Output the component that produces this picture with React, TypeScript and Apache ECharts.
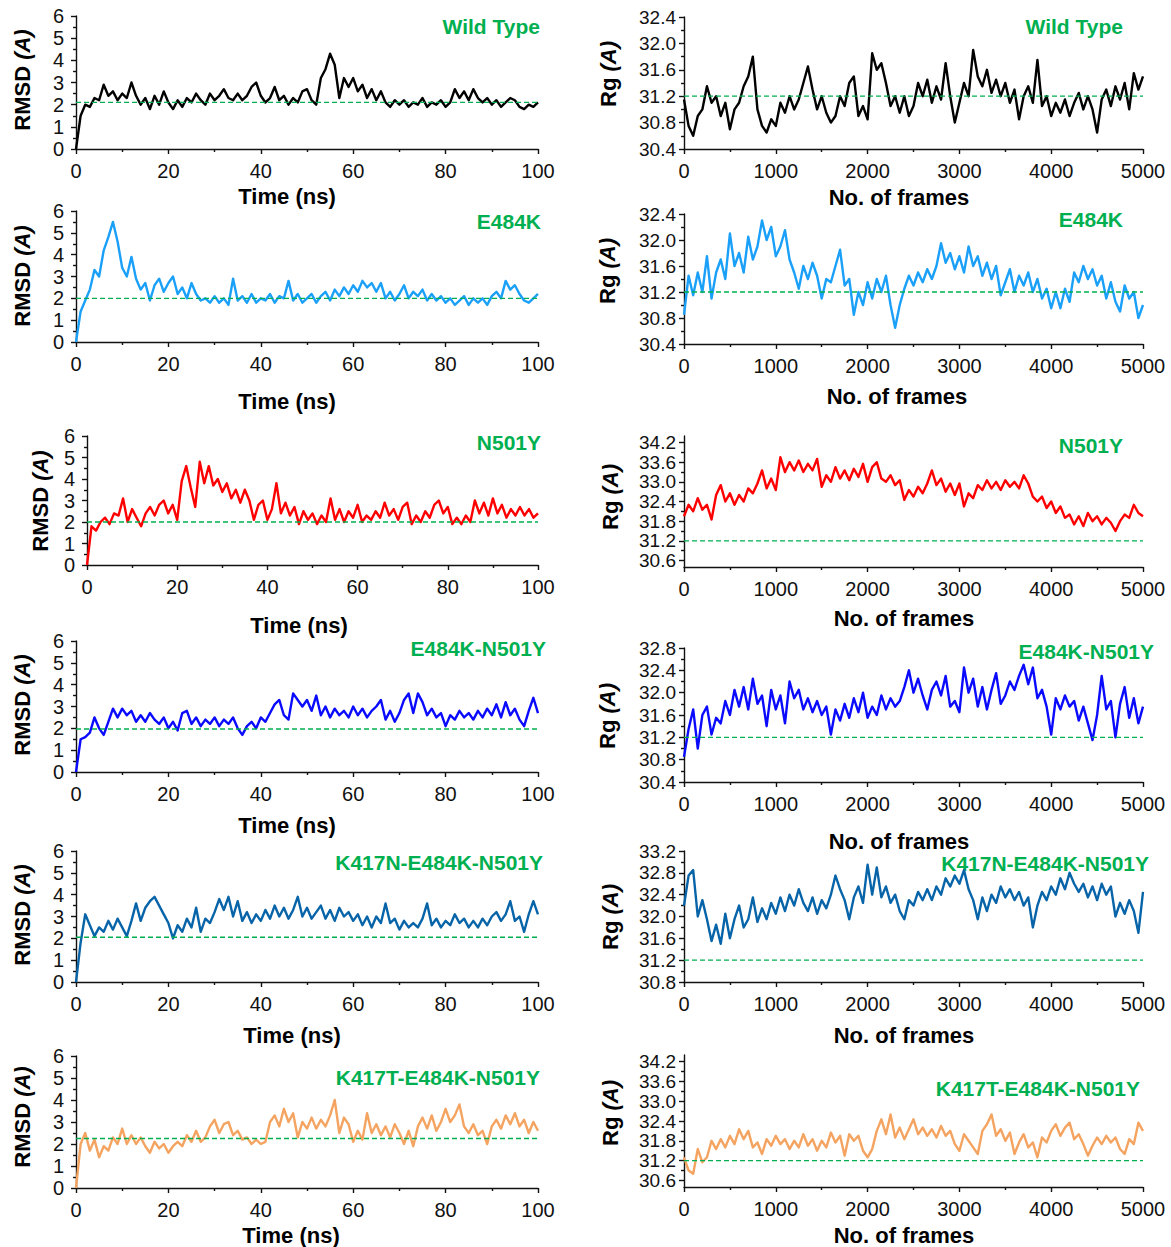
import React, { useEffect, useRef } from "react";
import * as echarts from "echarts";

// ---------------- data ----------------
// RMSD series: one value per ns, 0..100 ns
const WT_RMSD = [
  0, 1.5, 2.0, 1.9, 2.3, 2.2, 2.9, 2.4, 2.6, 2.2,
  2.5, 2.3, 3.0, 2.4, 2.0, 2.3, 1.8, 2.4, 2.0, 2.6,
  2.1, 1.8, 2.2, 1.9, 2.3, 2.1, 2.5, 2.2, 2.0, 2.5,
  2.2, 2.4, 2.7, 2.3, 2.2, 2.5, 2.2, 2.4, 2.8, 3.0,
  2.4, 2.1, 2.3, 2.8, 2.2, 2.4, 2.0, 2.3, 2.1, 2.6,
  2.7, 2.2, 2.0, 3.2, 3.6, 4.3, 3.8, 2.3, 3.2, 2.8,
  3.2, 2.6, 2.9, 2.3, 2.7, 2.2, 2.6, 2.1, 1.9, 2.2,
  2.0, 2.2, 1.9, 2.1, 2.0, 2.3, 1.9, 2.1, 2.0, 2.2,
  1.9, 2.1, 2.7, 2.3, 2.6, 2.2, 2.7, 2.3, 2.1, 2.3,
  2.0, 2.2, 1.9, 2.1, 2.3, 2.2, 1.9, 1.8, 2.0, 1.9,
  2.1,
];
const E484K_RMSD = [
  0, 1.4, 1.9, 2.4, 3.3, 3.0, 4.2, 4.8, 5.5, 4.6,
  3.4, 3.0, 3.9, 2.9, 2.4, 2.7, 1.9, 2.6, 2.9, 2.3,
  2.7, 3.0, 2.2, 2.5, 2.0, 2.7, 2.2, 1.9, 2.0, 1.8,
  2.1, 1.8, 2.0, 1.7, 2.9, 1.9, 2.1, 1.8, 2.2, 1.8,
  2.0, 1.9, 2.2, 1.8, 2.1, 2.0, 2.8, 1.9, 2.2, 1.8,
  2.0, 2.2, 1.8, 2.1, 2.3, 1.9, 2.4, 2.1, 2.5, 2.2,
  2.6, 2.3, 2.8, 2.5, 2.7, 2.3, 2.7, 2.0, 2.3, 1.9,
  2.2, 2.6, 2.0, 2.3, 2.1, 2.4, 1.9, 2.2, 1.9, 2.1,
  1.8, 2.0, 1.7, 1.9, 2.1, 1.7, 2.0, 1.8, 2.0, 1.7,
  2.1, 2.3, 2.0, 2.8, 2.4, 2.6, 2.2, 1.9, 1.8, 2.0,
  2.2,
];
const N501Y_RMSD = [
  0, 1.8, 1.6, 2.0, 2.2, 1.9, 2.4, 2.3, 3.1, 2.0,
  2.6, 2.2, 1.8, 2.4, 2.7, 2.3, 2.8, 3.0, 2.4, 2.8,
  2.1, 3.9, 4.6, 3.6, 2.7, 4.8, 3.8, 4.6, 3.7, 4.0,
  3.4, 3.8, 3.1, 3.5, 2.9, 3.5, 3.0, 2.1, 2.8, 3.0,
  2.1, 2.6, 3.8, 2.4, 2.9, 2.3, 2.7, 1.9, 2.5, 2.1,
  2.4, 1.9, 2.3, 2.0, 3.1, 2.1, 2.6, 2.0, 2.5, 2.2,
  2.8, 2.0, 2.3, 2.1, 2.5, 2.2, 2.9, 2.3, 2.6, 2.1,
  2.7, 2.9, 1.9, 2.3, 2.0, 2.5, 2.2, 2.8, 3.0, 2.4,
  2.7, 1.9, 2.2, 1.9, 2.3, 2.0, 3.0, 2.4, 2.9, 2.3,
  3.1, 2.4, 2.8, 2.2, 2.6, 2.3, 2.7, 2.3, 2.6, 2.2,
  2.4,
];
const EN_RMSD = [
  0, 1.5, 1.6, 1.8, 2.5, 2.0, 1.7, 2.3, 2.9, 2.5,
  2.9, 2.6, 2.8, 2.3, 2.6, 2.3, 2.7, 2.4, 2.2, 2.5,
  2.0, 2.3, 1.9, 2.7, 2.8, 2.2, 2.5, 2.1, 2.4, 2.2,
  2.5, 2.1, 2.4, 2.2, 2.5, 2.0, 1.7, 2.1, 2.3, 2.0,
  2.5, 2.3, 2.7, 3.1, 3.3, 2.6, 2.4, 3.6, 3.3, 3.0,
  3.3, 2.8, 3.5, 2.6, 3.0, 2.5, 2.9, 2.6, 2.8, 2.5,
  3.0, 2.6, 2.9, 2.5, 2.8, 3.0, 3.3, 2.4, 2.8, 2.3,
  2.7, 3.3, 3.6, 2.7, 3.6, 3.2, 2.6, 2.9, 2.5, 2.7,
  2.1, 2.6, 2.4, 2.8, 2.5, 2.7, 2.4, 2.8, 2.5, 2.9,
  2.6, 3.1, 2.5, 3.2, 2.6, 2.9, 2.4, 2.1, 2.8, 3.4,
  2.7,
];
const K417N_RMSD = [
  0, 1.8, 3.1, 2.6, 2.1, 2.5, 2.3, 2.8, 2.4, 2.9,
  2.5, 2.1, 2.8, 3.6, 2.8, 3.4, 3.7, 3.9, 3.5, 3.1,
  2.7, 2.0, 2.6, 2.3, 2.9, 2.5, 3.4, 2.3, 2.9, 2.7,
  3.2, 3.8, 3.3, 3.9, 3.0, 3.7, 2.8, 3.2, 2.7, 3.1,
  2.8, 3.3, 2.9, 3.5, 3.0, 3.4, 2.9, 3.3, 3.9, 3.0,
  3.4, 2.9, 3.2, 3.5, 2.9, 3.3, 2.8, 3.4, 3.0, 3.2,
  2.8, 3.1, 2.6, 3.0, 2.5, 3.0, 2.7, 3.6, 2.7, 2.9,
  2.4, 2.8, 2.5, 2.7, 2.5, 2.9, 3.6, 2.6, 2.9, 2.5,
  2.8, 2.6, 3.1, 2.7, 2.9, 2.5, 2.8, 2.5, 2.9, 2.6,
  3.0, 3.2, 2.8, 3.1, 3.7, 2.8, 3.0, 2.3, 3.1, 3.7,
  3.1,
];
const K417T_RMSD = [
  0, 2.0, 2.5, 1.7, 2.2, 1.4, 1.9, 1.7, 2.3, 2.0,
  2.7, 2.0, 2.4, 2.0, 2.3, 1.9, 1.6, 2.1, 1.8, 2.0,
  1.6, 1.9, 2.1, 1.9, 2.4, 2.1, 2.6, 2.1, 2.3, 2.8,
  3.1, 2.5, 2.9, 3.0, 2.4, 2.6, 2.2, 2.3, 2.0, 2.2,
  2.0, 2.1, 3.0, 3.3, 2.8, 3.6, 3.0, 3.4, 2.3, 3.0,
  2.7, 3.2, 2.7, 3.1, 2.8, 3.3, 4.0, 2.5, 3.2, 2.9,
  2.1, 2.6, 2.2, 3.4, 2.5, 2.9, 2.4, 2.8, 2.3, 2.9,
  2.5, 2.0, 2.6, 1.9, 2.8, 3.2, 2.7, 3.3, 2.6, 3.0,
  3.6, 3.0, 3.3, 3.8, 2.8, 2.5, 2.9, 2.4, 2.6, 2.0,
  2.8, 3.1, 2.7, 3.3, 2.9, 3.4, 2.8, 3.1, 2.5, 3.0,
  2.6,
];

// Rg series: one value per 50 frames, 0..5000
const WT_RG = [
  31.15, 30.75, 30.6, 30.9, 31.0, 31.35, 31.1, 31.2, 30.9, 31.1,
  30.7, 31.0, 31.1, 31.35, 31.5, 31.8, 31.0, 30.75, 30.65, 30.85,
  30.75, 31.1, 30.95, 31.2, 31.0, 31.15, 31.4, 31.65, 31.3, 31.0,
  31.2, 30.95, 30.8, 30.9, 31.2, 31.05, 31.4, 31.5, 30.9, 31.05,
  30.85, 31.85, 31.6, 31.7, 31.4, 31.05, 31.2, 30.95, 31.2, 30.9,
  31.05, 31.4, 31.2, 31.45, 31.1, 31.35, 31.15, 31.7, 31.2, 30.8,
  31.1, 31.4, 31.2, 31.9, 31.5, 31.35, 31.6, 31.25, 31.45, 31.2,
  31.4, 31.1, 31.3, 30.85, 31.2, 31.35, 31.1, 31.75, 31.05, 31.2,
  30.9, 31.1, 30.95, 31.15, 30.9, 31.1, 31.25, 31.0, 31.2, 31.0,
  30.65, 31.15, 31.3, 31.05, 31.35, 31.15, 31.4, 31.0, 31.55, 31.3,
  31.5,
];
const E484K_RG = [
  30.85, 31.45, 31.15, 31.5, 31.2, 31.75, 31.1, 31.5, 31.7, 31.4,
  32.1, 31.6, 31.8, 31.5, 32.05, 31.7, 31.9, 32.3, 32.0, 32.2,
  31.75, 31.9, 32.15, 31.7, 31.5, 31.25, 31.6, 31.4, 31.65, 31.45,
  31.1, 31.4, 31.35, 31.6, 31.85, 31.3, 31.4, 30.85, 31.2, 31.0,
  31.35, 31.1, 31.4, 31.2, 31.45, 31.0, 30.65, 31.0, 31.25, 31.45,
  31.3, 31.5, 31.35, 31.55, 31.4, 31.6, 31.95, 31.65, 31.8, 31.55,
  31.75, 31.5, 31.9, 31.6, 31.75, 31.45, 31.65, 31.4, 31.6, 31.15,
  31.35, 31.55, 31.2, 31.45, 31.3, 31.5, 31.2, 31.4, 31.1, 31.25,
  30.95, 31.2, 30.95, 31.25, 31.05, 31.5, 31.35, 31.6, 31.4, 31.55,
  31.3, 31.45, 31.1, 31.35, 31.05, 30.9, 31.3, 31.1, 31.2, 30.8,
  31.0,
];
const N501Y_RG = [
  31.95, 32.3, 32.1, 32.5, 32.15, 32.3, 31.85, 32.6, 32.9, 32.4,
  32.65, 32.3, 32.6, 32.4, 32.8, 32.65, 32.95, 33.35, 32.8, 33.1,
  32.75, 33.75, 33.3, 33.6, 33.35, 33.65, 33.3, 33.55, 33.35, 33.7,
  32.85, 33.2, 33.0, 33.45, 33.1, 33.35, 33.05, 33.4, 33.15, 33.55,
  33.0, 33.45, 33.6, 33.1, 33.0, 33.2, 32.9, 33.05, 32.45, 32.75,
  32.55, 32.85, 32.65, 32.95, 33.35, 32.9, 33.1, 32.7, 32.95, 32.6,
  32.95, 32.25, 32.65, 32.5, 32.9, 32.75, 33.05, 32.8, 33.0, 32.75,
  33.05, 32.85, 33.0, 32.8, 33.2, 32.95, 32.55, 32.4, 32.55, 32.2,
  32.4, 32.05, 32.25, 31.9, 32.0, 31.7, 31.95, 31.65, 32.05, 31.8,
  31.95, 31.7, 31.9, 31.75, 31.5, 31.8, 32.0, 31.9, 32.3, 32.05,
  31.95,
];
const EN_RG = [
  30.85, 31.35, 31.7, 31.0, 31.6, 31.75, 31.25, 31.55, 31.45, 31.85,
  31.6, 32.05, 31.75, 32.1, 31.7, 32.25, 31.8, 31.95, 31.4, 32.05,
  31.7, 31.95, 31.45, 32.2, 31.9, 32.05, 31.7, 31.9, 31.65, 31.85,
  31.6, 31.75, 31.25, 31.7, 31.5, 31.8, 31.55, 31.9, 31.65, 32.0,
  31.55, 31.75, 31.6, 31.95, 31.7, 31.9, 31.75, 31.85, 32.1, 32.4,
  32.0, 32.25, 31.95, 31.7, 32.05, 32.2, 31.95, 32.3, 31.75, 31.85,
  31.65, 32.45, 32.0, 32.25, 31.75, 32.1, 31.7, 32.05, 32.35, 31.8,
  31.95, 32.2, 32.05, 32.3, 32.5, 32.15, 32.45, 31.9, 32.05, 31.75,
  31.25, 31.9, 31.7, 31.95, 31.75, 31.85, 31.5, 31.75, 31.45, 31.15,
  31.6, 32.3, 31.7, 31.85, 31.2, 31.8, 32.1, 31.55, 31.9, 31.45,
  31.75,
];
const K417N_RG = [
  32.2, 32.75, 32.85, 32.0, 32.3, 31.95, 31.55, 31.85, 31.5, 32.05,
  31.6, 31.95, 32.2, 31.8, 31.95, 32.35, 31.9, 32.15, 31.95, 32.25,
  32.05, 32.35, 32.1, 32.4, 32.2, 32.5, 32.25, 32.1, 32.35, 32.05,
  32.3, 32.15, 32.4, 32.75, 32.5, 32.3, 31.95, 32.35, 32.55, 32.25,
  32.95, 32.4, 32.9, 32.35, 32.55, 32.25, 32.4, 32.1, 31.95, 32.3,
  32.2, 32.45, 32.3, 32.5, 32.3, 32.55, 32.4, 32.7, 32.55, 32.75,
  32.6, 32.85, 32.5, 32.3, 31.95, 32.35, 32.1, 32.4, 32.25, 32.55,
  32.35, 32.5, 32.3, 32.45, 32.2, 32.35, 31.8, 32.2, 32.45, 32.3,
  32.55, 32.4, 32.7, 32.5, 32.8, 32.6, 32.45, 32.6, 32.35, 32.55,
  32.3, 32.6, 32.4, 32.55, 32.0, 32.25, 32.05, 32.3, 32.1, 31.7,
  32.45,
];
const K417T_RG = [
  31.3, 30.9, 30.8, 31.55, 31.15, 31.3, 31.8, 31.55, 31.85, 31.6,
  31.95, 31.7, 32.15, 31.85, 32.1, 31.6, 31.75, 31.4, 31.85, 31.65,
  31.95, 31.7, 31.85, 31.55, 31.8, 31.6, 32.0, 31.65, 31.85, 31.5,
  31.8, 31.6, 32.05, 31.75, 31.95, 31.35, 32.0, 31.8, 31.95, 31.5,
  31.3, 31.55, 32.1, 32.45, 32.0, 32.6, 31.9, 32.2, 31.85, 32.15,
  32.45, 32.0, 32.2, 31.95, 32.15, 31.9, 32.25, 31.95, 32.1, 31.7,
  31.5, 32.0, 31.8, 31.6, 31.4, 32.1, 32.3, 32.6, 31.95, 32.15,
  31.8, 32.05, 31.4, 31.75, 32.0, 31.6, 31.75, 31.3, 31.9, 31.75,
  32.1, 32.3, 31.95, 32.2, 32.35, 31.85, 32.0, 31.7, 31.35, 31.65,
  31.9, 31.7, 31.95, 31.75, 31.9, 31.55, 31.4, 31.85, 31.7, 32.35,
  32.1,
];

const TIME_STEP_NS = 1;
const FRAME_STEP = 50;

const VARIANTS = ["Wild Type", "E484K", "N501Y", "E484K-N501Y", "K417N-E484K-N501Y", "K417T-E484K-N501Y"];
const RMSD_SERIES = [WT_RMSD, E484K_RMSD, N501Y_RMSD, EN_RMSD, K417N_RMSD, K417T_RMSD];
const RG_SERIES = [WT_RG, E484K_RG, N501Y_RG, EN_RG, K417N_RG, K417T_RG];
const RMSD_REF = [2.1, 2.0, 2.0, 1.97, 2.05, 2.25];
const RG_REF = [31.2, 31.2, 31.2, 31.2, 31.2, 31.2];

// tick labels
const TIME_TICKS = [0, 20, 40, 60, 80, 100];
const TIME_MINOR = [10, 30, 50, 70, 90];
const FRAME_TICKS = [0, 1000, 2000, 3000, 4000, 5000];
const FRAME_MINOR = [500, 1500, 2500, 3500, 4500];
const RMSD_TICKS = [0, 1, 2, 3, 4, 5, 6];
const RMSD_MINOR = [0.5, 1.5, 2.5, 3.5, 4.5, 5.5];
const RG_TICKS_A = [30.4, 30.8, 31.2, 31.6, 32.0, 32.4];
const RG_MINOR_A = [30.6, 31.0, 31.4, 31.8, 32.2];
const RG_TICKS_B = [30.6, 31.2, 31.8, 32.4, 33.0, 33.6, 34.2];
const RG_MINOR_B = [30.9, 31.5, 32.1, 32.7, 33.3, 33.9];
const RG_TICKS_C = [30.4, 30.8, 31.2, 31.6, 32.0, 32.4, 32.8];
const RG_MINOR_C = [30.6, 31.0, 31.4, 31.8, 32.2, 32.6];
const RG_TICKS_D = [30.8, 31.2, 31.6, 32.0, 32.4, 32.8, 33.2];
const RG_MINOR_D = [31.0, 31.4, 31.8, 32.2, 32.6, 33.0];
const RG_RANGES = [[30.4, 32.4], [30.4, 32.4], [30.4, 34.4], [30.4, 32.8], [30.8, 33.2], [30.4, 34.4]];
const RG_TICKS = [RG_TICKS_A, RG_TICKS_A, RG_TICKS_B, RG_TICKS_C, RG_TICKS_D, RG_TICKS_B];
const RG_MINORS = [RG_MINOR_A, RG_MINOR_A, RG_MINOR_B, RG_MINOR_C, RG_MINOR_D, RG_MINOR_B];

const COLORS = ["#000000", "#1aa0f8", "#ff0000", "#0a0aff", "#0764a8", "#f4a460"];
const GREEN = "#00b050";

// ---------------- layout ----------------
const LEFT_GRIDS = [
  { x0: 76, x1: 538, top: 16, bottom: 149 },
  { x0: 76, x1: 538, top: 211, bottom: 342 },
  { x0: 87, x1: 538, top: 436, bottom: 565 },
  { x0: 76, x1: 538, top: 641, bottom: 772 },
  { x0: 76, x1: 538, top: 851, bottom: 982 },
  { x0: 76, x1: 538, top: 1056, bottom: 1188 },
];
const RIGHT_GRIDS = [
  { x0: 684, x1: 1143, top: 17, bottom: 149 },
  { x0: 684, x1: 1143, top: 214, bottom: 344 },
  { x0: 684, x1: 1143, top: 436, bottom: 567 },
  { x0: 684, x1: 1143, top: 648, bottom: 782 },
  { x0: 684, x1: 1143, top: 851, bottom: 982 },
  { x0: 684, x1: 1143, top: 1055, bottom: 1187 },
];
const X_TITLE_LEFT = [[287, 196], [287, 401], [299, 625], [287, 825], [292, 1035], [291, 1235]];
const X_TITLE_RIGHT = [[899, 197], [897, 396], [904, 618], [899, 841], [904, 1035], [904, 1235]];
const Y_TITLE_LEFT = [[22, 80], [22, 276], [40, 501], [22, 705], [22, 915], [22, 1117]];
const Y_TITLE_RIGHT = [[608, 74], [607, 271], [610, 497], [607, 716], [610, 917], [610, 1113]];
const LABEL_LEFT = [[540, 26], [541, 221], [541, 442], [546, 648], [543, 862], [540, 1077]];
const LABEL_RIGHT = [[1123, 26], [1123, 219], [1123, 445], [1154, 651], [1149, 863], [1140, 1088]];

const FONT = "'Liberation Sans', Arial, Helvetica, sans-serif";
const AXIS_COLOR = "#111";

function buildOption() {
  const grid: any[] = [];
  const xAxis: any[] = [];
  const yAxis: any[] = [];
  const series: any[] = [];
  const elements: any[] = [];

  const lineStyle = { color: AXIS_COLOR, width: 1.4 };

  const addPanel = (
    g: any,
    xMin: number, xMax: number, xTicks: number[], xMinor: number[],
    yMin: number, yMax: number, yTicks: number[], yMinor: number[],
    yFmt: (v: number) => string, yMargin: number, yFont: number,
    values: number[], step: number, color: string, ref: number
  ) => {
    const gi = grid.length;
    grid.push({ left: g.x0, top: g.top, width: g.x1 - g.x0, height: g.bottom - g.top, containLabel: false });
    const ai = xAxis.length;
    xAxis.push({
      type: "value", gridIndex: gi, position: "bottom", min: xMin, max: xMax,
      axisLine: { show: true, onZero: false, lineStyle },
      splitLine: { show: false },
      axisTick: { show: true, inside: false, length: 5, lineStyle, customValues: xTicks },
      axisLabel: {
        customValues: xTicks, fontSize: 20, color: AXIS_COLOR, fontFamily: FONT, margin: 12,
        hideOverlap: false, showMinLabel: true, showMaxLabel: true,
        formatter: (v: number) => String(v),
      },
    });
    xAxis.push({
      type: "value", gridIndex: gi, position: "bottom", min: xMin, max: xMax,
      axisLine: { show: false }, splitLine: { show: false }, axisLabel: { show: false },
      axisTick: { show: true, inside: false, length: 3, lineStyle, customValues: xMinor },
    });
    yAxis.push({
      type: "value", gridIndex: gi, position: "left", min: yMin, max: yMax,
      axisLine: { show: true, onZero: false, lineStyle },
      splitLine: { show: false },
      axisTick: { show: true, inside: false, length: 5, lineStyle, customValues: yTicks },
      axisLabel: {
        customValues: yTicks, fontSize: yFont, color: AXIS_COLOR, fontFamily: FONT, margin: yMargin,
        hideOverlap: false, showMinLabel: true, showMaxLabel: true, formatter: yFmt,
      },
    });
    yAxis.push({
      type: "value", gridIndex: gi, position: "left", min: yMin, max: yMax,
      axisLine: { show: false }, splitLine: { show: false }, axisLabel: { show: false },
      axisTick: { show: true, inside: false, length: 3, lineStyle, customValues: yMinor },
    });
    series.push({
      type: "line", xAxisIndex: ai, yAxisIndex: ai, showSymbol: false, symbol: "none", silent: true,
      data: values.map((v, i) => [i * step, v]),
      lineStyle: { color, width: 2.4, join: "round" }, z: 2,
    });
    series.push({
      type: "line", xAxisIndex: ai, yAxisIndex: ai, showSymbol: false, symbol: "none", silent: true,
      data: [[xMin, ref], [xMax, ref]],
      lineStyle: { color: GREEN, width: 1.3, type: [5, 3] }, z: 3,
    });
  };

  const xTitle = (pos: number[], text: string) => ({
    type: "text", x: pos[0], y: pos[1],
    style: { text, fontSize: 22, fontWeight: "bold", fontFamily: FONT, fill: "#000", align: "center", verticalAlign: "middle" },
  });
  const yTitle = (pos: number[], main: string) => ({
    type: "text", x: pos[0], y: pos[1], rotation: Math.PI / 2,
    style: {
      text: `{b|${main} }{i|(A)}`,
      align: "center", verticalAlign: "middle",
      rich: {
        b: { fontSize: 22, fontWeight: "bold", fontFamily: FONT, fill: "#000" },
        i: { fontSize: 22, fontWeight: "bold", fontStyle: "italic", fontFamily: FONT, fill: "#000" },
      },
    },
  });
  const label = (pos: number[], text: string) => ({
    type: "text", x: pos[0], y: pos[1],
    style: { text, fontSize: 21, fontWeight: "bold", fontFamily: FONT, fill: GREEN, align: "right", verticalAlign: "middle" },
  });

  for (let r = 0; r < 6; r++) {
    addPanel(
      LEFT_GRIDS[r], 0, 100, TIME_TICKS, TIME_MINOR,
      0, 6, RMSD_TICKS, RMSD_MINOR, (v: number) => String(v), 12, 20,
      RMSD_SERIES[r], TIME_STEP_NS, COLORS[r], RMSD_REF[r]
    );
    addPanel(
      RIGHT_GRIDS[r], 0, 5000, FRAME_TICKS, FRAME_MINOR,
      RG_RANGES[r][0], RG_RANGES[r][1], RG_TICKS[r], RG_MINORS[r], (v: number) => v.toFixed(1), 8, 19,
      RG_SERIES[r], FRAME_STEP, COLORS[r], RG_REF[r]
    );
    elements.push(xTitle(X_TITLE_LEFT[r], "Time (ns)"));
    elements.push(xTitle(X_TITLE_RIGHT[r], "No. of frames"));
    elements.push(yTitle(Y_TITLE_LEFT[r], "RMSD"));
    elements.push(yTitle(Y_TITLE_RIGHT[r], "Rg"));
    elements.push(label(LABEL_LEFT[r], VARIANTS[r]));
    elements.push(label(LABEL_RIGHT[r], VARIANTS[r]));
  }

  return {
    animation: false,
    backgroundColor: "#ffffff",
    textStyle: { fontFamily: FONT },
    grid, xAxis, yAxis, series,
    graphic: { elements },
  };
}

export default function App() {
  const ref = useRef<HTMLDivElement>(null);
  useEffect(() => {
    if (!ref.current) return;
    const chart = echarts.init(ref.current, undefined, { renderer: "svg" });
    chart.setOption(buildOption() as any);
    return () => chart.dispose();
  }, []);
  return (
    <div
      ref={ref}
      style={{ position: "absolute", left: 0, top: 0, width: 1171, height: 1247, background: "#fff" }}
    />
  );
}
